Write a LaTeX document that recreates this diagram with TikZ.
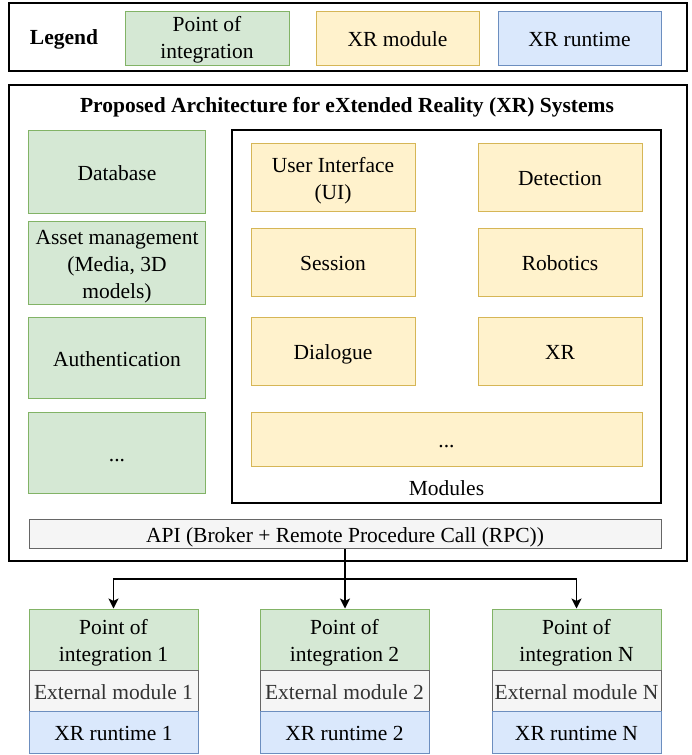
\documentclass[tikz,border=0pt]{standalone}
\usepackage{fontspec}
\setmainfont{Liberation Serif}
\usetikzlibrary{arrows.meta}
\definecolor{pointfill}{HTML}{D5E8D4}
\definecolor{pointline}{HTML}{82B366}
\definecolor{modfill}{HTML}{FFF2CC}
\definecolor{modline}{HTML}{D6B656}
\definecolor{rtfill}{HTML}{DAE8FC}
\definecolor{rtline}{HTML}{6C8EBF}
\definecolor{extfill}{HTML}{F5F5F5}
\definecolor{extline}{HTML}{666666}
\definecolor{exttext}{HTML}{333333}
% fixed line struts keep the text block evenly placed in every cell
\newcommand\topline{\rule{0pt}{23pt}}
\newcommand\lastline{\rule[-6pt]{0pt}{0pt}}
\tikzset{
  txt/.style={font=\fontsize{21.5}{27}\selectfont, align=center, inner sep=0pt},
  cell/.style={txt, rectangle, draw, line width=1pt,
    execute at begin node=\topline,
    execute at end node=\lastline},
  pointbox/.style={cell, fill=pointfill, draw=pointline},
  modbox/.style={cell, fill=modfill, draw=modline},
  rtbox/.style={cell, fill=rtfill, draw=rtline},
  extbox/.style={cell, fill=extfill, draw=extline},
  frame/.style={rectangle, draw=black, inner sep=0pt},
  link/.style={line width=1.5pt, draw=black},
  tip/.style={link, -{Stealth[length=10pt, width=10pt, inset=2.5pt]}}
}
\begin{document}
\begin{tikzpicture}[x=1pt, y=-1pt]
\useasboundingbox (0,0) rectangle (691,755);

% Legend
\node[frame, line width=2.5pt, minimum width=678pt, minimum height=68pt] (legend) at (348,37) {};
\node[txt, font=\fontsize{21.5}{27}\selectfont\bfseries] (legendlabel) at (64,39) {Legend};
\node[pointbox, minimum width=164pt, minimum height=54pt] (lgpoint) at (207,38) {\rule{0pt}{20pt}Point of\\integration\rule[-5pt]{0pt}{0pt}};
\node[modbox, minimum width=163pt, minimum height=54pt] (lgmod) at (397.5,38) {XR module};
\node[rtbox, minimum width=163pt, minimum height=54pt] (lgrt) at (579.5,38) {XR runtime};

% Architecture frame
\node[frame, line width=1.5pt, minimum width=678pt, minimum height=476pt] (arch) at (348,323) {};
\node[txt, font=\fontsize{21.5}{27}\selectfont\bfseries] (title) at (347,107) {Proposed Architecture for eXtended Reality (XR) Systems};

% Integration points on the left
\node[pointbox, minimum width=177pt, minimum height=83pt] (db) at (117,171.5) {Database};
\node[pointbox, minimum width=177pt, minimum height=81pt] (asset) at (117,262.5) {\topline Asset management\\(Media, 3D\\models)\lastline};
\node[pointbox, minimum width=177pt, minimum height=81pt] (auth) at (117,357.5) {Authentication};
\node[pointbox, minimum width=177pt, minimum height=81pt] (pmore) at (117,452.5) {...};

% Modules
\node[frame, line width=1.3pt, minimum width=429pt, minimum height=373pt] (modules) at (446.5,316.5) {};
\node[modbox, minimum width=164pt, minimum height=68pt] (ui) at (333,177) {\topline User Interface\\(UI)\lastline};
\node[modbox, minimum width=164pt, minimum height=68pt] (det) at (560,177) {Detection};
\node[modbox, minimum width=164pt, minimum height=68pt] (sess) at (333,262) {Session};
\node[modbox, minimum width=164pt, minimum height=68pt] (rob) at (560,262) {Robotics};
\node[modbox, minimum width=164pt, minimum height=68pt] (dia) at (333,351) {Dialogue};
\node[modbox, minimum width=164pt, minimum height=68pt] (xr) at (560,351) {XR};
\node[modbox, minimum width=391pt, minimum height=54pt] (mmore) at (446.5,439) {...};
\node[txt] (modlabel) at (446.5,488) {Modules};

% API bar
\node[extbox, minimum width=632pt, minimum height=26pt] (api) at (345,534) {API (Broker + Remote Procedure Call (RPC))};

% External stacks
\foreach \i/\x/\n in {1/113.5/1, 2/344.5/2, 3/576.5/N} {
  \node[pointbox, minimum width=169pt, minimum height=61pt] (p\i) at (\x,639.5) {\topline Point of\\integration \n\lastline};
  \node[extbox, minimum width=169pt, minimum height=41pt, text=exttext] (e\i) at (\x,690.5) {External module \n};
  \node[rtbox, minimum width=169pt, minimum height=42pt] (r\i) at (\x,732) {XR runtime \n};
}

% Connectors from the API to each integration point
\coordinate (split) at (345,579);
\draw[link] (api.south) -- (split);
\draw[tip] (split) -| (p1.north);
\draw[tip] (split) -- (p2.north -| split);
\draw[tip] (split) -| (p3.north);
\end{tikzpicture}
\end{document}
